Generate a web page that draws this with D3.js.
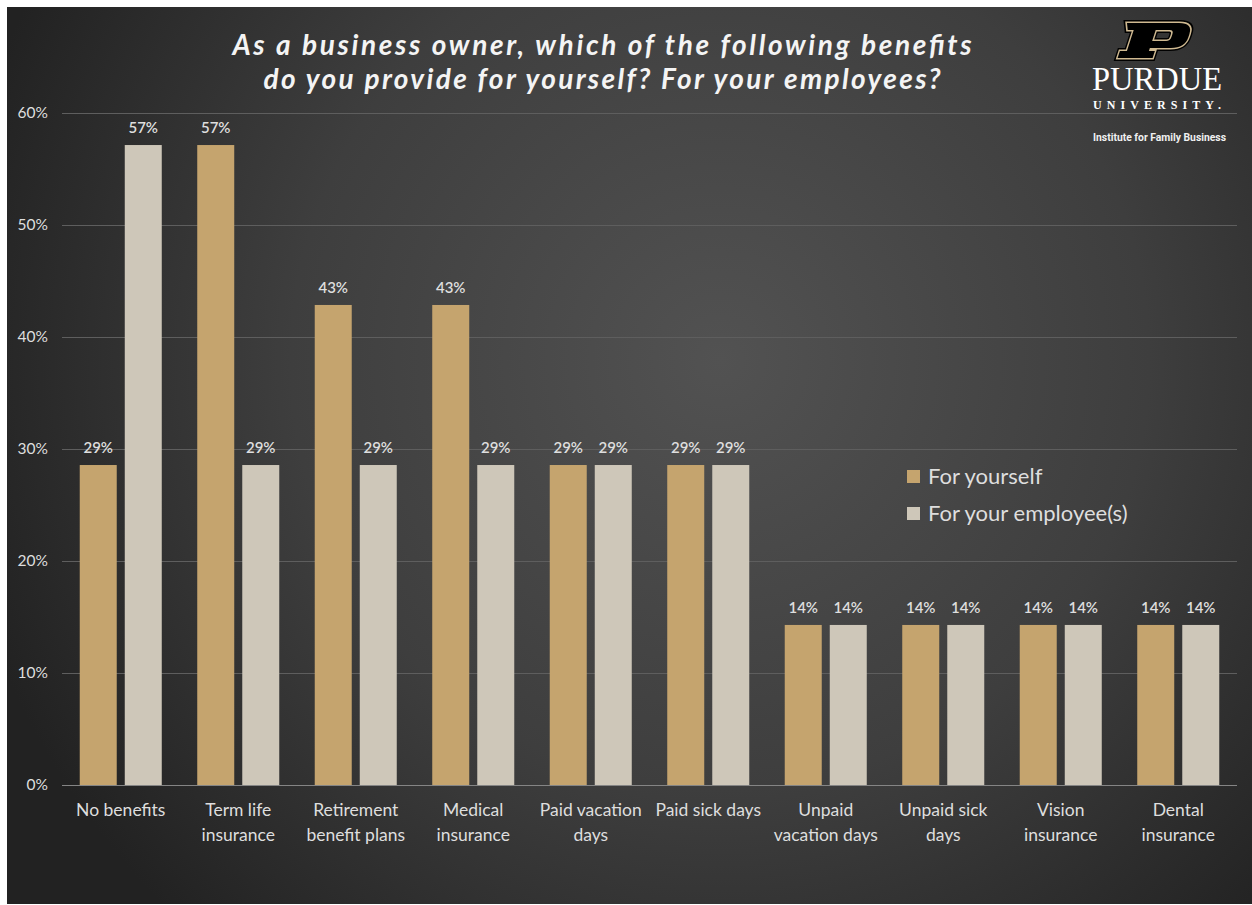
<!DOCTYPE html>
<html>
<head>
<meta charset="utf-8">
<script src="https://cdn.jsdelivr.net/npm/d3@7"></script>
<style>
  html, body { margin: 0; padding: 0; background: #ffffff; }
  svg { display: block; }
</style>
</head>
<body>
<svg id="chart" width="1252" height="905"></svg>
<script>
// ---- Data ----
const categories = ["No benefits", "Term life insurance", "Retirement benefit plans", "Medical insurance",
  "Paid vacation days", "Paid sick days", "Unpaid vacation days", "Unpaid sick days", "Vision insurance", "Dental insurance"];
const categoryLines = [["No benefits"], ["Term life", "insurance"], ["Retirement", "benefit plans"], ["Medical", "insurance"],
  ["Paid vacation", "days"], ["Paid sick days"], ["Unpaid", "vacation days"], ["Unpaid sick", "days"], ["Vision", "insurance"], ["Dental", "insurance"]];
const seriesNames = ["For yourself", "For your employee(s)"];
const forYourself = [28.57, 57.14, 42.86, 42.86, 28.57, 28.57, 14.29, 14.29, 14.29, 14.29];
const forEmployees = [57.14, 28.57, 28.57, 28.57, 28.57, 28.57, 14.29, 14.29, 14.29, 14.29];
const valueLabelsYourself = ["29%", "57%", "43%", "43%", "29%", "29%", "14%", "14%", "14%", "14%"];
const valueLabelsEmployees = ["57%", "29%", "29%", "29%", "29%", "29%", "14%", "14%", "14%", "14%"];
const yTicks = [0, 10, 20, 30, 40, 50, 60];
const titleLines = ["As a business owner, which of the following benefits", "do you provide for yourself? For your employees?"];

const colors = ["#C5A46E", "#CEC7B9"];
const textColor = "#DEDEDE";

const svg = d3.select("#chart");

// background
const defs = svg.append("defs");
const grad = defs.append("radialGradient").attr("id", "bg")
  .attr("gradientUnits", "userSpaceOnUse")
  .attr("cx", 720).attr("cy", 360).attr("r", 780);
grad.append("stop").attr("offset", "0%").attr("stop-color", "#525252");
grad.append("stop").attr("offset", "55%").attr("stop-color", "#3e3e3e");
grad.append("stop").attr("offset", "100%").attr("stop-color", "#222222");
svg.append("rect").attr("x", 7).attr("y", 7).attr("width", 1245).attr("height", 897).attr("fill", "url(#bg)");

// scales
const x = d3.scaleBand().domain(categories).range([62, 1237]).paddingInner(0).paddingOuter(0);
const x1 = d3.scaleBand().domain(seriesNames).range([0, x.bandwidth()]).paddingInner(0.178).paddingOuter(0.394);
const y = d3.scaleLinear().domain([0, 60]).range([785, 113]);

// gridlines
svg.append("g").selectAll("line").data(yTicks).join("line")
  .attr("x1", 62).attr("x2", 1237)
  .attr("y1", d => y(d) + 0.5).attr("y2", d => y(d) + 0.5)
  .attr("stroke", d => d === 0 ? "#858585" : "#5e5e5e").attr("stroke-width", 1.2);

// y axis labels
const yAxis = d3.axisLeft(y).tickValues(yTicks).tickFormat(d => d + "%").tickSize(0).tickPadding(0);
const yg = svg.append("g").attr("transform", "translate(48,0)").call(yAxis);
yg.select(".domain").remove();
yg.selectAll("text").attr("fill", textColor).attr("font-family", "Lato, sans-serif").attr("font-size", 15.5);

// bars
const seriesData = [forYourself, forEmployees];
const labelData = [valueLabelsYourself, valueLabelsEmployees];
seriesNames.forEach((s, si) => {
  const g = svg.append("g");
  g.selectAll("rect").data(categories).join("rect")
    .attr("x", c => x(c) + x1(s))
    .attr("width", x1.bandwidth())
    .attr("y", (c, i) => y(seriesData[si][i]))
    .attr("height", (c, i) => y(0) - y(seriesData[si][i]))
    .attr("fill", colors[si]);
  g.selectAll("text").data(categories).join("text")
    .attr("x", c => x(c) + x1(s) + x1.bandwidth() / 2)
    .attr("y", (c, i) => y(seriesData[si][i]) - 12)
    .attr("text-anchor", "middle")
    .attr("fill", textColor).attr("font-family", "Lato, sans-serif").attr("font-size", 15).attr("font-weight", 600)
    .text((c, i) => labelData[si][i]);
});

// x labels
const xg = svg.append("g");
categories.forEach((c, i) => {
  const t = xg.append("text").attr("text-anchor", "middle")
    .attr("fill", textColor).attr("font-family", "Lato, sans-serif").attr("font-size", 17.5);
  categoryLines[i].forEach((ln, li) => {
    t.append("tspan").attr("x", x(c) + x.bandwidth() / 2).attr("y", 816 + li * 25).text(ln);
  });
});

// legend
const lg = svg.append("g");
seriesNames.forEach((s, i) => {
  lg.append("rect").attr("x", 907).attr("y", 470 + i * 37).attr("width", 13).attr("height", 13).attr("fill", colors[i]);
  lg.append("text").attr("x", 928).attr("y", 484 + i * 37)
    .attr("fill", textColor).attr("font-family", "Lato, sans-serif").attr("font-size", 22).text(s);
});

// title
const titleW = [739, 677];
titleLines.forEach((ln, i) => {
  svg.append("text").attr("x", 602).attr("y", 55 + i * 34).attr("text-anchor", "middle")
    .attr("fill", "#F4F4F4").attr("font-family", "Lato, sans-serif").attr("font-size", 28)
    .attr("font-weight", 700).attr("font-style", "italic")
    .attr("textLength", titleW[i]).attr("lengthAdjust", "spacing")
    .text(ln);
});

// Purdue logo
const pPath = "M0,0 H52 Q66,0 66,11 V14 Q66,25 52,25 H31 V28 H37 V35 H2 V28 H9 V7 H3 Z M31,7 H45 Q49,7 49,11 V14 Q49,18 45,18 H31 Z";
const logo = svg.append("g").attr("transform", "translate(1127,23) skewX(-18)");
logo.append("path").attr("d", pPath).attr("fill", "none").attr("stroke", "#000").attr("stroke-width", 6).attr("stroke-linejoin", "miter").attr("fill-rule", "evenodd");
logo.append("path").attr("d", pPath).attr("fill", "none").attr("stroke", "#CFB991").attr("stroke-width", 3).attr("stroke-linejoin", "miter").attr("fill-rule", "evenodd");
logo.append("path").attr("d", pPath).attr("fill", "#000").attr("fill-rule", "evenodd");

svg.append("text").attr("x", 1092).attr("y", 90).attr("fill", "#FFFFFF")
  .attr("font-family", "'Liberation Serif', serif").attr("font-size", 34)
  .attr("textLength", 130).attr("lengthAdjust", "spacingAndGlyphs").text("PURDUE");
svg.append("text").attr("x", 1093).attr("y", 108.5).attr("fill", "#FFFFFF")
  .attr("font-family", "'Liberation Serif', serif").attr("font-size", 12).attr("font-weight", 700)
  .attr("textLength", 128).attr("lengthAdjust", "spacing").text("UNIVERSITY.");
svg.append("text").attr("x", 1093).attr("y", 141).attr("fill", "#F0F0F0")
  .attr("font-family", "'Liberation Sans Narrow', 'Roboto', sans-serif").attr("font-size", 11).attr("font-weight", 700)
  .attr("textLength", 133).attr("lengthAdjust", "spacingAndGlyphs").text("Institute for Family Business");
</script>
</body>
</html>
